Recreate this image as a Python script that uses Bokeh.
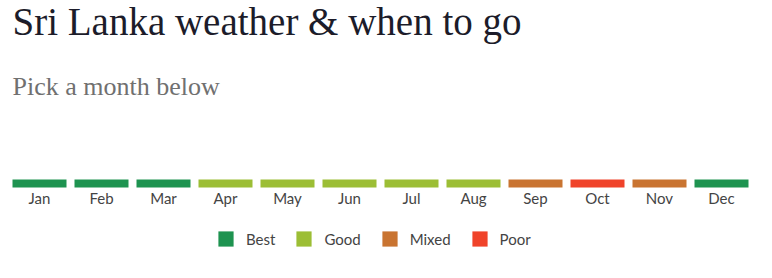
from bokeh.plotting import figure
from bokeh.models import Range1d, FactorRange, ColumnDataSource, Legend, LegendItem
from bokeh.core.properties import value
from bokeh.embed import file_html
from bokeh.resources import INLINE

# ---- data ----
months = ["Jan", "Feb", "Mar", "Apr", "May", "Jun",
          "Jul", "Aug", "Sep", "Oct", "Nov", "Dec"]
ratings = ["Best", "Best", "Best", "Good", "Good", "Good",
           "Good", "Good", "Mixed", "Poor", "Mixed", "Best"]
levels = ["Best", "Good", "Mixed", "Poor"]
level_colors = ["#1e9350", "#9cbe35", "#c97431", "#f0432a"]
title_text = "Sri Lanka weather & when to go"
subtitle_text = "Pick a month below"

color_of = dict(zip(levels, level_colors))

p = figure(width=772, height=278,
           x_range=FactorRange(factors=months, range_padding=0),
           y_range=Range1d(248, 0),
           output_backend="svg", toolbar_location=None,
           y_axis_location=None,
           min_border_left=8, min_border_right=20,
           min_border_top=0, min_border_bottom=30)
p.title.visible = False
p.grid.visible = False
p.outline_line_color = None
p.background_fill_color = "white"
p.border_fill_color = "white"

items = []
for lvl in levels:
    ms = [m for m, r in zip(months, ratings) if r == lvl]
    src = ColumnDataSource(dict(month=ms))
    r = p.vbar(x="month", width=54 / 62, top=179, bottom=187, source=src,
               fill_color=color_of[lvl], line_color=None)
    items.append(LegendItem(label=lvl, renderers=[r]))

legend = Legend(items=items, orientation="horizontal", location=(208, 0),
                glyph_width=19, glyph_height=19, label_standoff=11, spacing=19,
                padding=0, margin=0, border_line_color=None,
                background_fill_alpha=0,
                label_text_font="Lato", label_text_font_size="15px",
                label_text_color="#444444")
p.add_layout(legend, "center")

ax = p.xaxis[0]
ax.fixed_location = 178
ax.axis_line_color = None
ax.major_tick_line_color = None
ax.minor_tick_line_color = None
ax.major_label_text_font = "Lato"
ax.major_label_text_font_size = "15px"
ax.major_label_text_color = "#444444"
ax.major_label_standoff = 4

p.text(x=[months[0]], y=[21], text=[title_text], x_offset=-27,
       text_font=value("Liberation Serif"), text_font_size="39px",
       text_baseline="alphabetic", text_color="#1c1c2a")
p.text(x=[months[0]], y=[86], text=[subtitle_text], x_offset=-27,
       text_font=value("Liberation Serif"), text_font_size="26px",
       text_baseline="alphabetic", text_color="#707070")

open("out.html", "w").write(file_html(p, INLINE))
